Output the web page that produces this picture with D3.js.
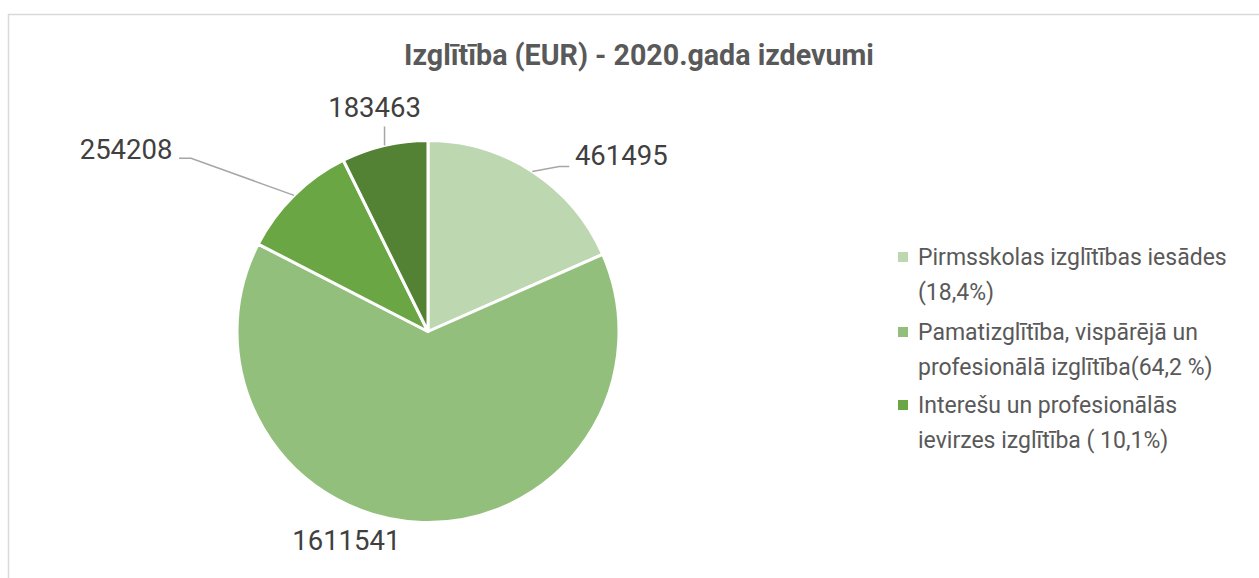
<!DOCTYPE html>
<html>
<head>
<meta charset="utf-8">
<script src="https://cdn.jsdelivr.net/npm/d3@7"></script>
<style>
  html, body { margin: 0; padding: 0; background: #fff; }
  svg { display: block; font-family: Roboto, "Noto Sans", sans-serif; }
</style>
</head>
<body>
<svg id="chart" width="1259" height="578"></svg>
<script>
const title = "Izglītība (EUR) - 2020.gada izdevumi";
const categories = [
  "Pirmsskolas izglītības iesādes (18,4%)",
  "Pamatizglītība, vispārējā un profesionālā izglītība(64,2 %)",
  "Interešu un profesionālās ievirzes izglītība ( 10,1%)",
  "Cits"
];
const values = [461495, 1611541, 254208, 183463];
// legend lines as they wrap in the picture (4th entry is cut off there)
const legendLines = [
  ["Pirmsskolas izglītības iesādes", "(18,4%)"],
  ["Pamatizglītība, vispārējā un", "profesionālā izglītība(64,2 %)"],
  ["Interešu un profesionālās", "ievirzes izglītība ( 10,1%)"]
];
const colors = ["#bdd7b1", "#93bf7c", "#6aa644", "#548235"];

const svg = d3.select("#chart");
const width = 1259, height = 578;
const cx = 428, cy = 331.5, radius = 191;

// chart area border
svg.append("rect")
  .attr("x", 8.5).attr("y", 14.5)
  .attr("width", 1270).attr("height", 620)
  .attr("fill", "#fff")
  .attr("stroke", "#d9d9d9")
  .attr("stroke-width", 1.5);

// title, sized to the width it has in the picture
let titleText = svg.append("text")
  .attr("x", 639).attr("y", 65)
  .attr("text-anchor", "middle")
  .attr("font-weight", "bold")
  .attr("font-size", 100)
  .attr("fill", "#595959")
  .text(title);
let tw = titleText.node().getComputedTextLength();
titleText.attr("font-size", 100 * 470 / tw);

const color = d3.scaleOrdinal().domain(categories).range(colors);

const pie = d3.pie().sort(null).value(d => d.value);
const arcs = pie(categories.map((c, i) => ({ name: c, value: values[i] })));

const arc = d3.arc().innerRadius(0).outerRadius(radius);
const edge = d3.arc().innerRadius(radius).outerRadius(radius);

const g = svg.append("g").attr("transform", `translate(${cx},${cy})`);

g.selectAll("path.slice")
  .data(arcs)
  .enter()
  .append("path")
  .attr("class", "slice")
  .attr("d", arc)
  .attr("fill", d => color(d.data.name))
  .attr("stroke", "#fff")
  .attr("stroke-width", 3)
  .attr("stroke-linejoin", "round");

// label placement, relative to the slice edge point (Excel best-fit look)
const labelLayout = [
  { dx: 89, dy: -16, leader: [[27, -5], [37, -5]] },
  { dx: -76, dy: 18, leader: null },
  { dx: -168, dy: -46, leader: [[-103, -37], [-115, -37]] },
  { dx: -10, dy: -38, leader: [[0, -19]] }
];

arcs.forEach((d, i) => {
  const [ex, ey] = edge.centroid(d);
  const lay = labelLayout[i];
  if (lay.leader) {
    const pts = [[ex, ey]].concat(lay.leader.map(p => [ex + p[0], ey + p[1]]));
    g.append("path")
      .attr("d", d3.line()(pts))
      .attr("fill", "none")
      .attr("stroke", "#a6a6a6")
      .attr("stroke-width", 1.5);
  }
  g.append("text")
    .attr("x", ex + lay.dx)
    .attr("y", ey + lay.dy)
    .attr("text-anchor", "middle")
    .attr("dominant-baseline", "central")
    .attr("font-size", 27.5)
    .attr("fill", "#404040")
    .text(d.data.value);
});

// legend
const legend = svg.append("g").attr("transform", "translate(898,0)");
const legendY = [257, 332, 405];
legendLines.forEach((lines, i) => {
  legend.append("rect")
    .attr("x", 0).attr("y", legendY[i] - 5)
    .attr("width", 10).attr("height", 10)
    .attr("fill", colors[i]);
  lines.forEach((t, j) => {
    legend.append("text")
      .attr("x", 20)
      .attr("y", legendY[i] + j * 35)
      .attr("dominant-baseline", "central")
      .attr("font-size", 23)
      .attr("fill", "#595959")
      .text(t);
  });
});
</script>
</body>
</html>
